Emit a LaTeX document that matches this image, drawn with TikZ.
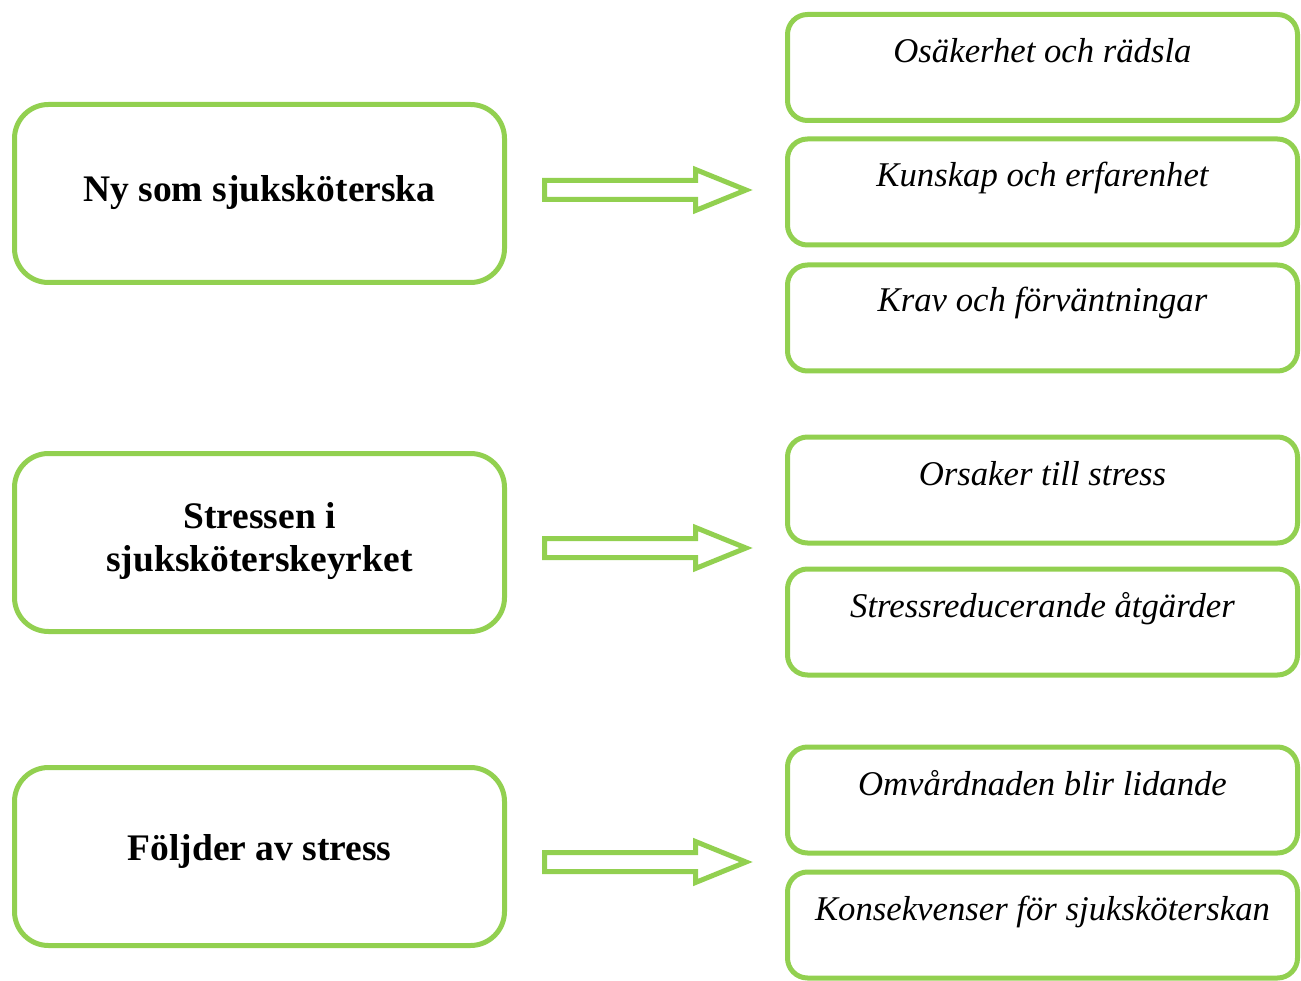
\documentclass[tikz,border=0pt]{standalone}
\usepackage{fontspec}
\setmainfont{Liberation Serif}
\definecolor{lgreen}{HTML}{92D050}
\begin{document}
\begin{tikzpicture}[x=1pt,y=-1pt,
  mainbox/.style={draw=lgreen,line width=5pt,rounded corners=34pt,minimum width=490pt,minimum height=178pt,inner sep=0pt},
  maintext/.style={font=\fontsize{37.5}{43}\selectfont\bfseries,align=center,inner sep=0pt},
  subbox/.style={draw=lgreen,line width=5pt,rounded corners=20pt,minimum width=510pt,minimum height=106pt,inner sep=0pt},
  subtext/.style={font=\fontsize{34.7}{40}\selectfont\itshape,anchor=base,inner sep=0pt},
  blockarrow/.pic={\draw[draw=lgreen,fill=white,line width=5pt,miter limit=10]
      (0,-9.5) -- (151,-9.5) -- (151,-20.5) -- (201.5,0) -- (151,20.5) -- (151,9.5) -- (0,9.5) -- cycle;}]
\useasboundingbox (0,0) rectangle (1301,981);

% left boxes
\node[mainbox] (m1) at (259.5,193.5) {};
\node[mainbox] (m2) at (259.5,542.5) {};
\node[mainbox] (m3) at (259.5,856.5) {};
\node[maintext,anchor=base] (m1t) at (259.5,202) {Ny som sjuksköterska};
\node[maintext] (m2t) at (259.5,541) {Stressen i\\sjuksköterskeyrket};
\node[maintext,anchor=base] (m3t) at (259.5,860) {Följder av stress};

% arrows
\coordinate (a1) at (544.5,190);
\coordinate (a2) at (544.5,548);
\coordinate (a3) at (544.5,862);
\pic at (a1) {blockarrow};
\pic at (a2) {blockarrow};
\pic at (a3) {blockarrow};

% right boxes
\node[subbox] (s1) at (1042.5,67.5) {};
\node[subbox] (s2) at (1042.5,192) {};
\node[subbox] (s3) at (1042.5,318) {};
\node[subbox] (s4) at (1042.5,490) {};
\node[subbox] (s5) at (1042.5,622) {};
\node[subbox] (s6) at (1042.5,800) {};
\node[subbox] (s7) at (1042.5,925) {};

\node[subtext] (s1t) at (1042.5,63) {Osäkerhet och rädsla};
\node[subtext] (s2t) at (1042.5,187) {Kunskap och erfarenhet};
\node[subtext] (s3t) at (1042.5,312) {Krav och förväntningar};
\node[subtext] (s4t) at (1042.5,485) {Orsaker till stress};
\node[subtext] (s5t) at (1042.5,617) {Stressreducerande åtgärder};
\node[subtext] (s6t) at (1042.5,795) {Omvårdnaden blir lidande};
\node[subtext] (s7t) at (1042.5,920) {Konsekvenser för sjuksköterskan};
\end{tikzpicture}
\end{document}
